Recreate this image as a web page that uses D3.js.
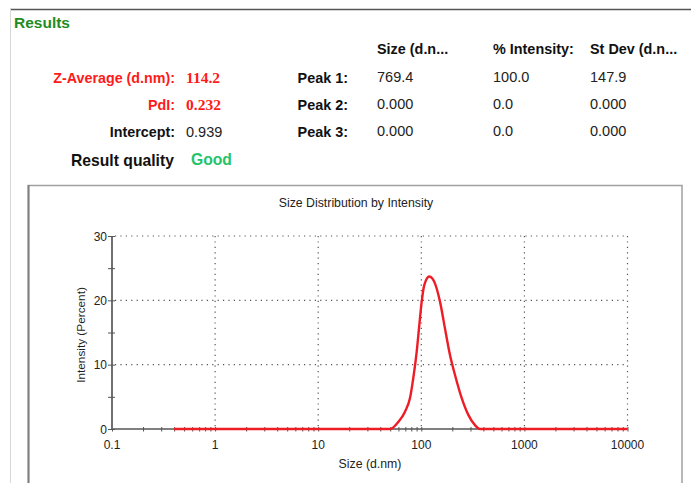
<!DOCTYPE html>
<html><head><meta charset="utf-8">
<script src="https://cdn.jsdelivr.net/npm/d3@7/dist/d3.min.js"></script>
<style>
html,body{margin:0;padding:0;background:#fff;}
svg{display:block;font-family:"Liberation Sans",Arial,sans-serif;}
</style></head>
<body>
<script>
// ---- data ----
const sizes = [0.4, 1, 10, 40, 49.7, 59.8, 69.5, 77.7, 83.6, 90.2, 95.7, 100.9, 107, 119.6, 135.9, 151.8, 169.8, 189.8, 212.3, 246.6, 285.8, 331.7, 370.9, 450, 1000, 10000];
const intensity = [0, 0, 0, 0, 0, 1.1, 2.7, 4.8, 7.9, 12.0, 16.2, 19.8, 22.4, 23.7, 22.6, 19.8, 15.6, 11.5, 8.4, 4.8, 2.2, 0.6, 0, 0, 0, 0];
const xMajorTicks = [0.1, 1, 10, 100, 1000, 10000];
const xTickLabels = ["0.1", "1", "10", "100", "1000", "10000"];
const yMajorTicks = [0, 10, 20, 30];
const yMinorTicks = [5, 15, 25];
const leftLabels = ["Z-Average (d.nm):", "PdI:", "Intercept:"];
const leftValues = ["114.2", "0.232", "0.939"];
const peakLabels = ["Peak 1:", "Peak 2:", "Peak 3:"];
const colHeaders = ["Size (d.n...", "% Intensity:", "St Dev (d.n..."];
const peakSize = ["769.4", "0.000", "0.000"];
const peakIntensity = ["100.0", "0.0", "0.0"];
const peakStDev = ["147.9", "0.000", "0.000"];

const W = 691, H = 483;
const svg = d3.select("body").append("svg").attr("width", W).attr("height", H);

// page frame
svg.append("line").attr("x1", 10).attr("x2", W).attr("y1", 9.5).attr("y2", 9.5).attr("stroke", "#555").attr("stroke-width", 1.5);
svg.append("line").attr("x1", 10.5).attr("x2", 10.5).attr("y1", 9).attr("y2", H).attr("stroke", "#d8d8d8").attr("stroke-width", 1);

svg.append("text").attr("x", 14).attr("y", 28).attr("font-size", 15.5).attr("font-weight", "bold").attr("fill", "#1e8c1e").text("Results");

// left results block
const rowY = [83, 110, 137];
const leftColors = ["#ff1a1a", "#ff1a1a", "#111"];
leftLabels.forEach((t, i) => {
  svg.append("text").attr("x", 175).attr("y", rowY[i]).attr("text-anchor", "end").attr("font-size", 14.3)
    .attr("font-weight", "bold").attr("fill", leftColors[i]).text(t);
  const v = svg.append("text").attr("x", 186).attr("y", rowY[i]).attr("font-size", 14.5).text(leftValues[i]);
  if (i < 2) v.attr("font-family", "Liberation Serif, serif").attr("font-weight", "bold").attr("fill", "#ff1a1a").attr("font-size", 15.5);
  else v.attr("fill", "#222");
});
svg.append("text").attr("x", 71).attr("y", 166).attr("font-size", 15.7).attr("font-weight", "bold").attr("fill", "#111").text("Result quality");
svg.append("text").attr("x", 191).attr("y", 165).attr("font-size", 15.7).attr("font-weight", "bold").attr("fill", "#22c46a").text("Good");

// peak table
const colX = [377, 493, 590];
colHeaders.forEach((t, i) => {
  svg.append("text").attr("x", colX[i]).attr("y", 54).attr("font-size", 14.4).attr("font-weight", "bold").attr("fill", "#111").text(t);
});
peakLabels.forEach((t, i) => {
  svg.append("text").attr("x", 348).attr("y", rowY[i]).attr("text-anchor", "end").attr("font-size", 14.4).attr("font-weight", "bold").attr("fill", "#111").text(t);
  [peakSize, peakIntensity, peakStDev].forEach((arr, j) => {
    svg.append("text").attr("x", colX[j]).attr("y", rowY[i] - 1).attr("font-size", 14.5).attr("fill", "#222").text(arr[i]);
  });
});

// chart frame
svg.append("rect").attr("x", 28.5).attr("y", 185.5).attr("width", 653.5).attr("height", 320)
  .attr("fill", "none").attr("stroke", "#a0a0a0").attr("stroke-width", 1.5);
svg.append("line").attr("x1", 28.5).attr("x2", 28.5).attr("y1", 185).attr("y2", H).attr("stroke", "#808080").attr("stroke-width", 2);

svg.append("text").attr("x", 356).attr("y", 207).attr("text-anchor", "middle").attr("font-size", 12.3).attr("fill", "#222").text("Size Distribution by Intensity");

const x = d3.scaleLog().domain([0.1, 10000]).range([112, 627.5]);
const y = d3.scaleLinear().domain([0, 30]).range([429, 236]);

// gridlines
const grid = svg.append("g").attr("stroke", "#555").attr("stroke-width", 1.2).attr("stroke-dasharray", "1.2,4.2");
yMajorTicks.filter(v => v > 0).forEach(v => {
  grid.append("line").attr("x1", x(0.1) + 3).attr("x2", x(10000)).attr("y1", y(v)).attr("y2", y(v));
});
xMajorTicks.filter(v => v > 0.1).forEach(v => {
  grid.append("line").attr("x1", x(v)).attr("x2", x(v)).attr("y1", y(30)).attr("y2", y(0));
});

// x axis
const xMinor = [];
for (let d = 0.1; d < 10000; d *= 10) for (let k = 2; k <= 9; k++) xMinor.push(+(d * k).toPrecision(3));
const xAxis = svg.append("g").attr("transform", `translate(0,${y(0)})`)
  .call(d3.axisBottom(x).tickValues(xMinor.concat(xMajorTicks)).tickSize(3).tickFormat(""));
xAxis.select(".domain").attr("stroke", "#808080").attr("stroke-width", 2).attr("d", `M${x(0.1)},0H${x(10000)}`);
xAxis.selectAll(".tick line").attr("stroke", "#555").attr("y1", -2).attr("y2", 2.5);
xTickLabels.forEach((t, i) => {
  svg.append("text").attr("x", x(xMajorTicks[i])).attr("y", 448.5).attr("text-anchor", "middle").attr("font-size", 12).attr("fill", "#222").text(t);
});
svg.append("text").attr("x", 370).attr("y", 468).attr("text-anchor", "middle").attr("font-size", 12.3).attr("fill", "#222").text("Size (d.nm)");

// curve
const line = d3.line().x((d, i) => x(sizes[i])).y(d => y(d)).curve(d3.curveMonotoneX);
svg.append("path").datum(intensity).attr("d", line).attr("fill", "none").attr("stroke", "#ee1c24").attr("stroke-width", 2.4);

// y axis
const yAxis = svg.append("g").attr("transform", `translate(${x(0.1)},0)`)
  .call(d3.axisLeft(y).tickValues(yMajorTicks.concat(yMinorTicks)).tickSize(4).tickFormat(""));
yAxis.select(".domain").attr("stroke", "#707070").attr("stroke-width", 2).attr("d", `M0,${y(0)}V${y(30)}`);
yAxis.selectAll(".tick line").attr("stroke", "#555").attr("x1", 3).attr("x2", -4);
yMajorTicks.forEach(v => {
  svg.append("text").attr("x", 107).attr("y", y(v) + 4.5).attr("text-anchor", "end").attr("font-size", 12).attr("fill", "#222").text(v);
});
svg.append("text").attr("transform", `translate(85,335) rotate(-90)`).attr("text-anchor", "middle").attr("font-size", 11.8).attr("fill", "#222").text("Intensity (Percent)");
</script>
</body></html>
